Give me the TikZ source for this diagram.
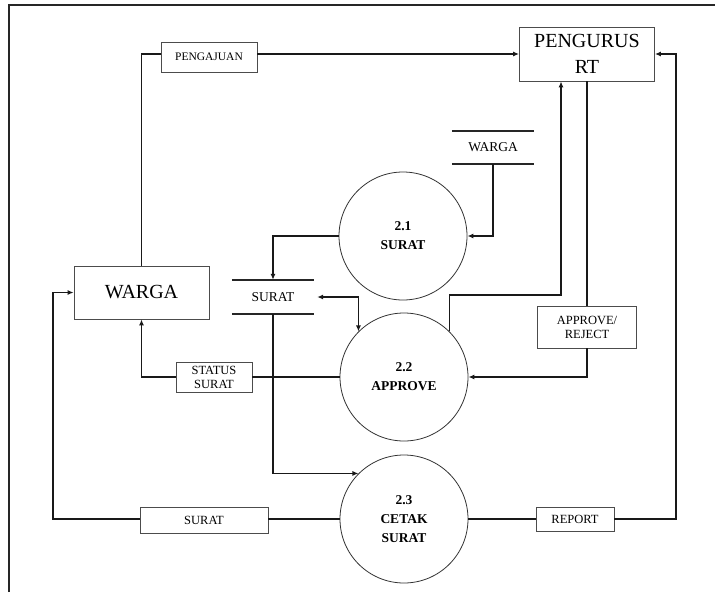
\documentclass[tikz,border=0pt]{standalone}
\usepackage{fontspec}
\setmainfont{Liberation Serif}
\usetikzlibrary{arrows.meta}

\tikzset{
  flow/.style={line width=1.6pt, draw=black!90},
  arr/.style={flow, -{Latex[length=6pt,width=5pt]}},
  biarr/.style={flow, {Latex[length=6pt,width=5pt]}-{Latex[length=6pt,width=5pt]}},
  entity/.style={draw=black!70, line width=0.8pt, rectangle, inner sep=0pt, align=center,
    font=\fontsize{20}{26}\selectfont},
  flowlabel/.style={draw=black!70, line width=0.8pt, fill=white, rectangle, inner sep=0pt, align=center,
    font=\fontsize{12.5}{14}\selectfont},
  process/.style={draw=black!80, line width=0.8pt, circle, minimum size=128pt, inner sep=0pt, align=center,
    font=\fontsize{13.5}{19}\selectfont\bfseries},
  storebox/.style={rectangle, inner sep=0pt, minimum width=82pt, minimum height=33pt,
    font=\fontsize{13.5}{16}\selectfont},
  storeline/.style={line width=1.6pt, draw=black!85},
  frameline/.style={line width=1.2pt, draw=black!85}
}

\begin{document}
\begin{tikzpicture}[x=1pt, y=-1pt]
\useasboundingbox (0,0) rectangle (715,592);

% page frame
\draw[frameline] (9,592) -- (9,5) -- (715,5);

% external entities
\node[entity, minimum width=135pt, minimum height=54pt] (pengurus) at (587,54) {PENGURUS\\RT};
\node[entity, minimum width=135pt, minimum height=53pt] (warga) at (141.5,292.5) {WARGA};

% processes
\node[process] (p21) at (403,236) {2.1\\SURAT};
\node[process] (p22) at (404,377) {2.2\\APPROVE};
\node[process] (p23) at (404,519) {2.3\\CETAK\\SURAT};

% data stores
\node[storebox] (ws) at (493,147.5) {WARGA};
\draw[storeline] (ws.north west) -- (ws.north east);
\draw[storeline] (ws.south west) -- (ws.south east);

\node[storebox, minimum height=34pt] (ss) at (273,297) {SURAT};
\draw[storeline] (ss.north west) -- (ss.north east);
\draw[storeline] (ss.south west) -- (ss.south east);

% flow labels
\node[flowlabel, minimum width=96pt, minimum height=30pt, font=\fontsize{11.5}{14}\selectfont] (pengajuan) at (209,57) {PENGAJUAN};
\node[flowlabel, minimum width=99pt, minimum height=42pt] (approve) at (587,327) {APPROVE/\\REJECT};
\node[flowlabel, minimum width=76pt, minimum height=30pt] (status) at (214,377) {STATUS\\SURAT};
\node[flowlabel, minimum width=128pt, minimum height=26pt] (sb) at (204,520) {SURAT};
\node[flowlabel, minimum width=78pt, minimum height=24pt] (report) at (575,519) {REPORT};

% free bend points of the outer loops
\coordinate (lc) at (53,400);
\coordinate (rc) at (676,300);

% WARGA -> PENGAJUAN -> PENGURUS RT
\draw[flow] (warga.north) |- (pengajuan.west |- pengurus.west);
\draw[arr] (pengajuan.east |- pengurus.west) -- (pengurus.west);

% WARGA store -> 2.1
\draw[arr] (ws.south) |- (p21.east);

% 2.1 -> SURAT store
\draw[arr] (p21.west) -| (ss.north);

% SURAT store <-> 2.2
\draw[biarr] ([xshift=3pt]ss.east) -| (p22.north west);

% 2.2 -> PENGURUS RT
\draw[arr] (p22.north east) -- ++(0,-36.5) -| ([xshift=-26pt]pengurus.south);

% PENGURUS RT -> APPROVE/REJECT -> 2.2
\draw[flow] (pengurus.south) -- (approve.north);
\draw[arr] (approve.south) |- (p22.east);

% 2.2 -> STATUS SURAT -> WARGA
\draw[flow] (p22.west) -- (status.east);
\draw[arr] (status.west) -| (warga.south);

% SURAT store -> 2.3
\draw[arr] (ss.south) |- (p23.north west);

% 2.3 -> SURAT -> WARGA
\draw[flow] (p23.west) -- (sb.east |- p23.west);
\draw[arr] (sb.west |- p23.west) -| (lc) |- (warga.west);

% 2.3 -> REPORT -> PENGURUS RT
\draw[flow] (p23.east) -- (report.west |- p23.east);
\draw[arr] (report.east |- p23.east) -| (rc) |- (pengurus.east);

\end{tikzpicture}
\end{document}
